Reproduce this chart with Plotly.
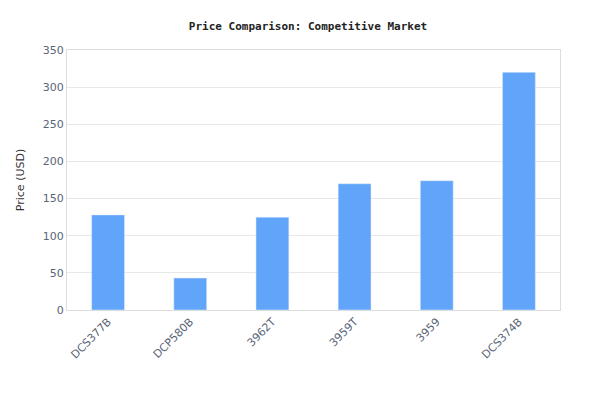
import plotly.graph_objects as go

models = ["DCS377B", "DCP580B", "3962T", "3959T", "3959", "DCS374B"]
prices = [128, 43, 125, 170, 174, 320]

fig = go.Figure(go.Bar(x=models, y=prices, marker=dict(color="#60a5fa"), width=0.4))
fig.update_layout(
    width=600, height=420,
    margin=dict(l=52, r=48, t=42, b=118),
    paper_bgcolor="white", plot_bgcolor="white",
    title=dict(text="<b>Price Comparison: Competitive Market</b>", x=0.5, y=0.967,
               font=dict(family="DejaVu Sans Mono", size=11, color="#222")),
    font=dict(family="DejaVu Sans", size=11, color="#5a6477"),
    showlegend=False,
)
fig.update_xaxes(tickangle=-45, showline=True, linecolor="#dddddd", mirror=True,
                 ticks="", tickfont=dict(size=11))
fig.update_yaxes(range=[0, 350], dtick=50, showgrid=True, gridcolor="#e8e8e8",
                 showline=True, linecolor="#dddddd", mirror=True, zeroline=False,
                 title=dict(text="Price (USD)", font=dict(size=11, color="#333")))
fig.write_html("out.html")
